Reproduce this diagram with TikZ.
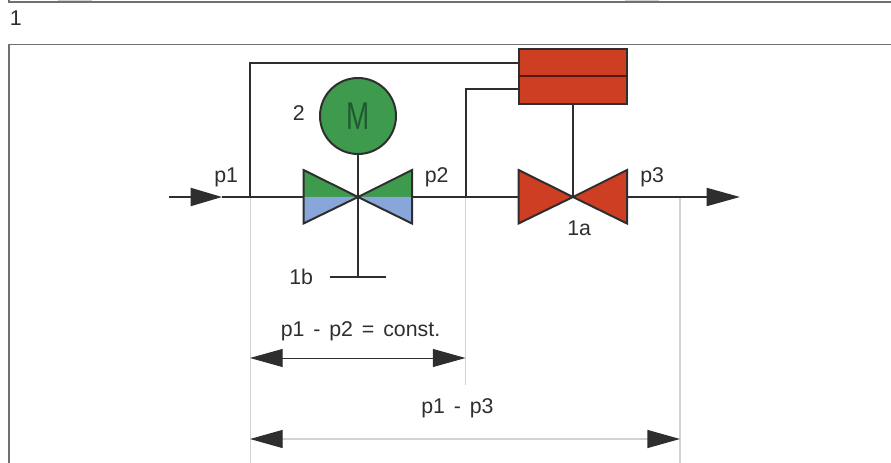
\documentclass[tikz,border=0pt]{standalone}
\usepackage{fontspec}
\setmainfont[WordSpace=1.5]{Liberation Sans}
\usetikzlibrary{arrows.meta}
\definecolor{ink}{HTML}{2E2E2E}
\definecolor{frameg}{HTML}{707070}
\definecolor{guide}{HTML}{D2D2D2}
\definecolor{vgreen}{HTML}{3E9A4C}
\definecolor{vblue}{HTML}{89A6DA}
\definecolor{vred}{HTML}{CE3E22}
\definecolor{mgreen}{HTML}{1F5A30}
\tikzset{
  x=0.75pt,y=-0.75pt,
  pipe/.style={draw=ink,line width=1.5pt},
  edge/.style={draw=ink,line width=1.5pt,line join=miter},
  framel/.style={draw=frameg,line width=1.3pt},
  guideline/.style={draw=guide,line width=1.1pt},
  lbl/.style={inner sep=0pt,anchor=base west,text=ink,font=\fontsize{16}{19}\selectfont},
  flowtip/.style={-{Triangle[length=25pt,width=13.5pt,color=ink]}},
  flowtipin/.style={-{Triangle[length=23.5pt,width=13.5pt,color=ink]}},
  dimtip/.style={{Triangle[length=24.5pt,width=13.5pt,color=ink]}-{Triangle[length=24.5pt,width=13.5pt,color=ink]}},
}
\begin{document}
\begin{tikzpicture}
\useasboundingbox (0,0) rectangle (891,463);
% frames
\fill[guide] (58,0) rectangle (92,1);
\fill[guide] (625,0) rectangle (659,1);
\coordinate (ta) at (9,0); \coordinate (tb) at (9,2); \coordinate (tc) at (891,2);
\draw[framel] (ta) -- (tb) -- (tc);
\coordinate (fa) at (9,463); \coordinate (fb) at (9,44.5); \coordinate (fc) at (891,44.5);
\draw[framel] (fa) -- (fb) -- (fc);
% key points
\coordinate (in) at (169,197);
\coordinate (tipin) at (222,197);
\coordinate (j1) at (250,197);
\coordinate (j2) at (465.5,197);
\coordinate (j3) at (680,197);
\coordinate (vone) at (358,197);
\coordinate (vtwo) at (573,197);
\coordinate (outa) at (627,197);
\coordinate (outtip) at (740,197);
\coordinate (g1) at (250.5,463);
\coordinate (g2) at (465.5,385);
\coordinate (g3) at (680,463);
\coordinate (d1l) at (250,358);
\coordinate (d1r) at (465.5,358);
\coordinate (d2l) at (250,439);
\coordinate (d2r) at (680,439);
\coordinate (bar) at (358,277);
\coordinate (bara) at (330,277);
\coordinate (barb) at (386,277);
% guide lines
\draw[guideline] (j1 -| g1) -- (g1);
\draw[guideline] (j2) -- (g2);
\draw[guideline] (j3) -- (g3);
% actuator box
\node[draw=ink,line width=1.5pt,fill=vred,minimum width=81.5pt,minimum height=41.25pt,inner sep=0pt,anchor=center] (act) at (573,76.3) {};
\coordinate (actin1) at (518.5,63);
\coordinate (actin2) at (518.5,89.5);
\draw[draw=black!60!vred,line width=1.5pt] (act.west) -- (act.east);
% motor
\node[circle,draw=ink,line width=1.5pt,fill=vgreen,minimum size=57pt,inner sep=0pt] (motor) at (358,116) {};
\node[inner sep=0pt,text=mgreen,xscale=.72,font=\fontsize{29}{32}\selectfont] (mlabel) at (358,116) {M};
% valve 1
\fill[vgreen] (303.5,170) -- (vone) -- (303.5,197) -- cycle;
\fill[vgreen] (412,170) -- (vone) -- (412,197) -- cycle;
\fill[vblue] (303.5,223.5) -- (vone) -- (303.5,197) -- cycle;
\fill[vblue] (412,223.5) -- (vone) -- (412,197) -- cycle;
\draw[edge] (vone) -- (303.5,170) -- (303.5,223.5) -- cycle;
\draw[edge] (vone) -- (412,170) -- (412,223.5) -- cycle;
% valve 2
\draw[edge,fill=vred] (vtwo) -- (518.5,170) -- (518.5,223.5) -- cycle;
\draw[edge,fill=vred] (vtwo) -- (627,170) -- (627,223.5) -- cycle;
% connectors
\draw[pipe,flowtipin] (in) -- (tipin);
\draw[pipe] (tipin) -- (303.5,197);
\draw[pipe] (412,197) -- (518.5,197);
\draw[pipe,flowtip] (outa) -- (outtip);
\draw[pipe] (j1) |- (actin1);
\draw[pipe] (j2) |- (actin2);
\draw[pipe] (motor.south) -- (bar);
\draw[pipe] (bara) -- (barb);
\draw[pipe] (act.south) -- (vtwo);
% dimension arrows
\draw[draw=ink,line width=0.7pt,dimtip] (d1l) -- (d1r);
\draw[draw=guide,line width=1pt,dimtip] (d2l) -- (d2r);
% labels
\node[lbl] (n1) at (9.5,26) {1};
\node[lbl] (n2) at (292.5,121) {2};
\node[lbl] (np1) at (214,183) {p1};
\node[lbl] (np2) at (424.5,183) {p2};
\node[lbl] (np3) at (640,183) {p3};
\node[lbl] (n1a) at (567,235) {1a};
\node[lbl] (n1b) at (289,284) {1b};
\node[lbl] (dl1) at (280.5,336) {p1 - p2 = const.};
\node[lbl] (dl2) at (421,413) {p1 - p3};
\end{tikzpicture}
\end{document}
